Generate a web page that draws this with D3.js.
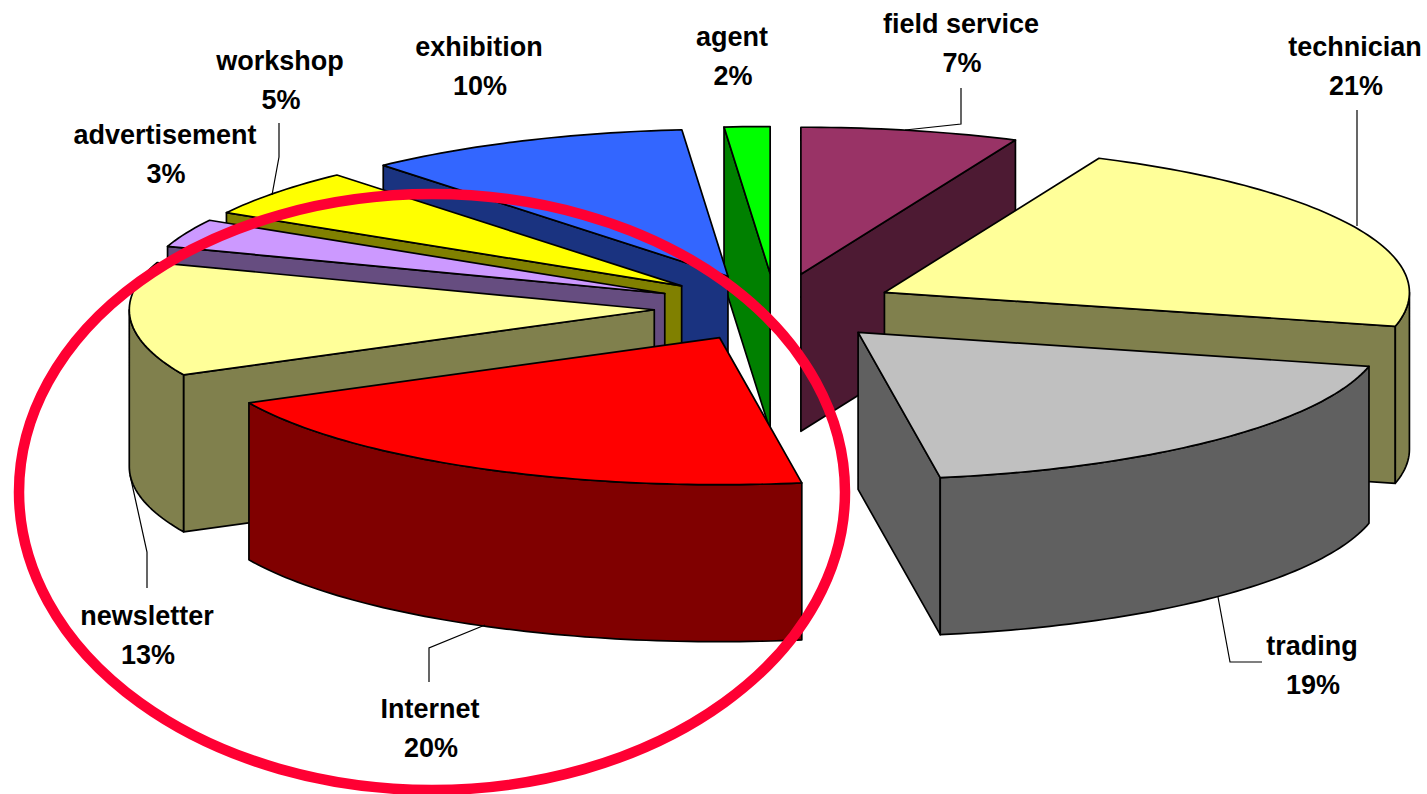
<!DOCTYPE html>
<html>
<head>
<meta charset="utf-8">
<script src="https://cdnjs.cloudflare.com/ajax/libs/d3/7.8.5/d3.min.js"></script>
<style>
html,body{margin:0;padding:0;background:#fff;overflow:hidden}
svg{display:block}
text{font-family:"Liberation Sans",Arial,sans-serif;font-weight:700;font-size:27px;fill:#000;text-anchor:middle}
</style>
</head>
<body>
<script>
// Data, clockwise from 12 o'clock
const categories = ["field service","technician","trading","Internet","newsletter","advertisement","workshop","exhibition","agent"];
const percentLabels = [7,21,19,20,13,3,5,10,2];
// slice sizes (percent of the full turn)
const shares = [6.7,22.0,18.8,20.2,12.5,3.1,5.3,10.0,1.4];
const topColors = ["#993366","#ffff99","#c0c0c0","#ff0000","#ffff99","#cc99ff","#ffff00","#3366ff","#00ff00"];
const wallColors = ["#4d1a33","#80804d","#606060","#800000","#80804d","#664d80","#808000","#1a3380","#008000"];
// painter's order: back slices first
const paintOrder = ["agent","field service","technician","trading","exhibition","workshop","advertisement","newsletter","Internet"];

// Layout
const W = 1427, H = 794;
const center = {x:775.5, y:307.5};
const radius = {x:525, y:147};
const depth = 157;
const explode = 0.2314;
const labelLayout = {
  "field service":{x:961,y:33,leader:[[961,88],[961,124],[905,130]]},
  "technician":{x:1355,y:56,leader:[[1357,110],[1357,226]]},
  "trading":{x:1312,y:655,leader:[[1218,597],[1230,662],[1262,662]]},
  "Internet":{x:430,y:718,leader:[[485,625],[429,648],[429,682]]},
  "newsletter":{x:147,y:625,leader:[[130,475],[147,552],[147,588]]},
  "advertisement":{x:165,y:144,leader:null},
  "workshop":{x:280,y:70,leader:[[279,123],[279,157],[272,195]]},
  "exhibition":{x:479,y:56,leader:null},
  "agent":{x:732,y:46,leader:null}
};

const svg = d3.select("body").append("svg").attr("width",W).attr("height",H);
const sx = d3.scaleLinear().domain([-1,1]).range([-radius.x,radius.x]);
const sy = d3.scaleLinear().domain([-1,1]).range([-radius.y,radius.y]);

const pie = d3.pie().sort(null).startAngle(0).endAngle(2*Math.PI);
const arcs = pie(shares);
const line = d3.line();
const closed = pts => line(pts) + "Z";
const rows = categories.map((name,i)=>({name,i,a0:arcs[i].startAngle,a1:arcs[i].endAngle}));

function rim(o,a){ return [o.x+sx(Math.sin(a)), o.y+sy(-Math.cos(a))]; }
function down(p){ return [p[0],p[1]+depth]; }
function sweep(a0,a1){
  const pts=[], n=Math.max(2,Math.ceil((a1-a0)/0.02));
  d3.range(n+1).forEach(k=>pts.push(a0+(a1-a0)*k/n));
  return pts;
}

const g = svg.append("g");
const black = {stroke:"#000","stroke-width":1.7,"stroke-linejoin":"round"};
function shape(parent,d,fill){
  const p=parent.append("path").attr("d",d).attr("fill",fill);
  Object.entries(black).forEach(([k,v])=>p.attr(k,v));
  return p;
}

paintOrder.forEach(name=>{
  const r = rows.find(d=>d.name===name);
  const mid=(r.a0+r.a1)/2;
  const o={x:center.x+explode*sx(Math.sin(mid)), y:center.y+explode*sy(-Math.cos(mid))};
  const tip=[o.x,o.y], wall=wallColors[r.i], top=topColors[r.i];
  const s=g.append("g").attr("class","slice").attr("data-name",name);
  // radial wall on the start edge faces the viewer in the left half
  if(Math.sin(r.a0)<0){
    const q=rim(o,r.a0);
    shape(s,closed([tip,q,down(q),down(tip)]),wall);
  }
  if(Math.sin(r.a1)>0){
    const q=rim(o,r.a1);
    shape(s,closed([tip,q,down(q),down(tip)]),wall);
  }
  // outer curved wall: only the near half of the rim is visible
  const lo=Math.max(r.a0,Math.PI/2), hi=Math.min(r.a1,3*Math.PI/2);
  if(hi>lo){
    const edge=sweep(lo,hi).map(a=>rim(o,a));
    shape(s,closed(edge.concat(edge.map(down).reverse())),wall);
  }
  // top face
  shape(s,closed([tip].concat(sweep(r.a0,r.a1).map(a=>rim(o,a)))),top);
});

// Leader lines and labels
const labels = svg.append("g");
rows.forEach(r=>{
  const l=labelLayout[r.name];
  if(l.leader) labels.append("path").attr("d",line(l.leader)).attr("fill","none").attr("stroke","#000").attr("stroke-width",1.2);
  const t=labels.append("text").attr("x",l.x).attr("y",l.y);
  t.append("tspan").attr("x",l.x).text(r.name);
  t.append("tspan").attr("x",l.x+1).attr("dy",38.5).text(percentLabels[r.i]+"%");
});

// Red highlight ring
svg.append("ellipse").attr("cx",432).attr("cy",492).attr("rx",413).attr("ry",298)
  .attr("fill","none").attr("stroke","#ff0033").attr("stroke-width",10.5);
</script>
</body>
</html>
